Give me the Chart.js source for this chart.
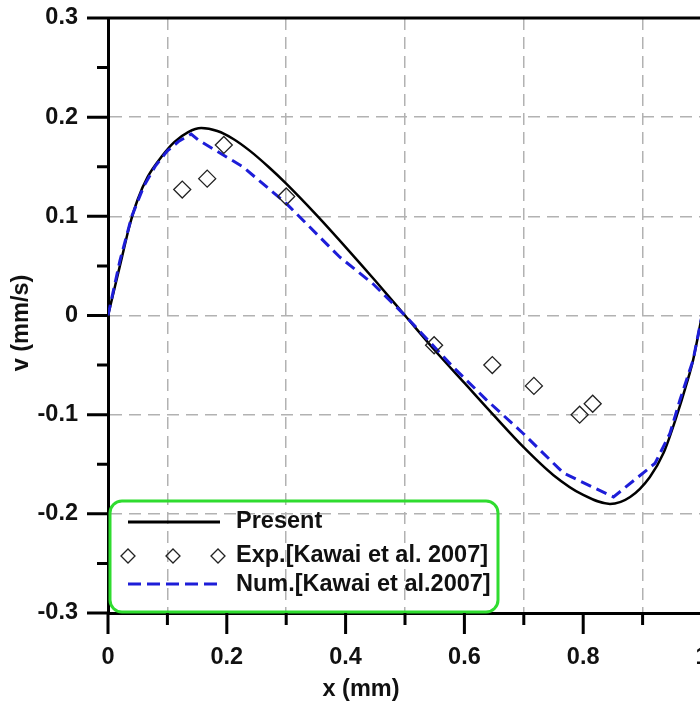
<!DOCTYPE html>
<html>
<head>
<meta charset="utf-8">
<script src="https://cdn.jsdelivr.net/npm/chart.js@4.4.1/dist/chart.umd.min.js"></script>
<style>
  html, body { margin: 0; padding: 0; background: #fff; overflow: hidden; }
  #wrap { width: 712px; height: 707px; }
</style>
</head>
<body>
<div id="wrap"><canvas id="chart" width="712" height="707"></canvas></div>
<script>
// Present (solid black)
const presentX = [0, 0.012, 0.024, 0.036, 0.05, 0.067, 0.09, 0.112, 0.135, 0.157, 0.184, 0.211, 0.239, 0.27, 0.3, 0.35, 0.4, 0.45, 0.5, 0.55, 0.6, 0.65, 0.7, 0.75, 0.8, 0.845, 0.879, 0.912, 0.935, 0.957, 0.974, 0.985, 1.0];
const presentY = [0, 0.03, 0.06, 0.09, 0.117, 0.140, 0.160, 0.175, 0.185, 0.189, 0.186, 0.178, 0.166, 0.150, 0.133, 0.102, 0.069, 0.035, 0.0, -0.035, -0.068, -0.101, -0.133, -0.161, -0.181, -0.190, -0.183, -0.163, -0.139, -0.102, -0.069, -0.045, 0];

// Exp. [Kawai et al. 2007] (diamonds)
const expX = [0.125, 0.167, 0.195, 0.300, 0.549, 0.647, 0.717, 0.794, 0.816];
const expY = [0.127, 0.138, 0.172, 0.120, -0.030, -0.050, -0.071, -0.100, -0.089];

// Num. [Kawai et al. 2007] (blue dashed)
const numX = [0, 0.02, 0.04, 0.06, 0.08, 0.1, 0.12, 0.14, 0.152, 0.227, 0.3, 0.39, 0.446, 0.5, 0.581, 0.637, 0.699, 0.767, 0.851, 0.921, 0.946, 0.963, 0.985, 1.0];
const numY = [0, 0.055, 0.1, 0.13, 0.151, 0.166, 0.176, 0.183, 0.177, 0.150, 0.113, 0.059, 0.032, 0.0, -0.052, -0.085, -0.119, -0.159, -0.183, -0.149, -0.119, -0.085, -0.045, 0];

const seriesLabels = ['Present', 'Exp.[Kawai et al. 2007]', 'Num.[Kawai et al.2007]'];
const xTitle = 'x (mm)';
const yTitle = 'v (mm/s)';

const FONT = '"Liberation Sans", Arial, sans-serif';
const BLUE = '#1d1dd8';

function toPoints(xs, ys) {
    return xs.map((x, i) => ({ x: x, y: ys[i] }));
}

// ticks, top frame, axis titles
const decorPlugin = {
    id: 'decor',
    afterDraw(chart) {
        const ctx = chart.ctx;
        const xs = chart.scales.x;
        const ys = chart.scales.y;
        const area = chart.chartArea;
        ctx.save();
        ctx.strokeStyle = '#000';
        ctx.lineWidth = 3;
        ctx.beginPath();
        for (let i = -6; i <= 6; i++) {
            const py = ys.getPixelForValue(i * 0.05);
            const len = i % 2 === 0 ? 21 : 11;
            ctx.moveTo(area.left - len, py);
            ctx.lineTo(area.left, py);
        }
        for (let i = 0; i <= 10; i++) {
            const px = xs.getPixelForValue(i * 0.1);
            const len = i % 2 === 0 ? 21 : 12;
            ctx.moveTo(px, area.bottom);
            ctx.lineTo(px, area.bottom + len);
        }
        ctx.moveTo(area.left - 1.5, area.top);
        ctx.lineTo(area.right, area.top);
        ctx.stroke();

        ctx.fillStyle = '#111';
        ctx.font = 'bold 23.5px ' + FONT;
        ctx.textAlign = 'center';
        ctx.textBaseline = 'middle';
        ctx.fillText(xTitle, 361, 690);
        ctx.translate(22, 323);
        ctx.rotate(-Math.PI / 2);
        ctx.fillText(yTitle, 0, 0);
        ctx.restore();
    }
};

// green framed legend
const legendBoxPlugin = {
    id: 'legendBox',
    afterDatasetsDraw(chart) {
        const ctx = chart.ctx;
        const ds = chart.data.datasets;
        ctx.save();
        ctx.strokeStyle = '#2fdc2f';
        ctx.lineWidth = 3;
        ctx.beginPath();
        ctx.roundRect(110, 501, 388, 111, 12);
        ctx.stroke();

        ctx.lineWidth = 3;
        ctx.strokeStyle = '#000';
        ctx.beginPath();
        ctx.moveTo(128, 522);
        ctx.lineTo(220, 522);
        ctx.stroke();

        ctx.lineWidth = 1.3;
        ctx.strokeStyle = '#222';
        [128, 173, 218].forEach(cx => {
            ctx.beginPath();
            ctx.moveTo(cx - 7, 556);
            ctx.lineTo(cx, 549);
            ctx.lineTo(cx + 7, 556);
            ctx.lineTo(cx, 563);
            ctx.closePath();
            ctx.stroke();
        });

        ctx.lineWidth = 3;
        ctx.strokeStyle = BLUE;
        ctx.setLineDash([13, 6]);
        ctx.beginPath();
        ctx.moveTo(128, 584);
        ctx.lineTo(221, 584);
        ctx.stroke();
        ctx.setLineDash([]);

        ctx.fillStyle = '#111';
        ctx.font = 'bold 23.5px ' + FONT;
        ctx.textAlign = 'left';
        ctx.textBaseline = 'middle';
        ctx.fillText(ds[0].label, 236, 522);
        ctx.fillText(ds[1].label, 236, 556);
        ctx.fillText(ds[2].label, 236, 585);
        ctx.restore();
    }
};

new Chart(document.getElementById('chart'), {
    type: 'scatter',
    data: {
        datasets: [
            {
                label: seriesLabels[0],
                data: toPoints(presentX, presentY),
                showLine: true,
                borderColor: '#000',
                borderWidth: 2.5,
                pointRadius: 0,
                cubicInterpolationMode: 'monotone',
                order: 2
            },
            {
                label: seriesLabels[1],
                data: toPoints(expX, expY),
                showLine: false,
                pointStyle: 'rectRot',
                pointRadius: 8.5,
                pointBorderWidth: 1.3,
                pointBorderColor: '#222',
                pointBackgroundColor: 'rgba(255,255,255,0)',
                order: 0
            },
            {
                label: seriesLabels[2],
                data: toPoints(numX, numY),
                showLine: true,
                borderColor: BLUE,
                borderWidth: 3,
                borderDash: [11, 6],
                pointRadius: 0,
                tension: 0,
                order: 1
            }
        ]
    },
    options: {
        responsive: false,
        animation: false,
        layout: { padding: { left: 0, right: 10, top: 18, bottom: 0 } },
        plugins: {
            legend: { display: false },
            tooltip: { enabled: false }
        },
        scales: {
            x: {
                type: 'linear',
                min: 0,
                max: 1,
                afterFit: (scale) => {
                    scale.height = 94;
                    scale.paddingLeft = 0;
                    scale.paddingRight = 0;
                },
                border: { color: '#000', width: 3, dash: [12, 7] },
                grid: {
                    drawTicks: false,
                    lineWidth: 1.5,
                    color: (c) => (Math.round(c.tick.value * 10) % 2 === 1 ? '#b2b2b2' : 'rgba(0,0,0,0)')
                },
                ticks: {
                    stepSize: 0.1,
                    padding: 30,
                    color: '#111',
                    font: { family: FONT, size: 23.5, weight: 'bold' },
                    maxRotation: 0,
                    autoSkip: false,
                    callback: (v) => {
                        const k = Math.round(v * 10);
                        return k % 2 === 0 ? String(k / 10) : '';
                    }
                }
            },
            y: {
                min: -0.3,
                max: 0.3,
                afterFit: (scale) => {
                    scale.width = 108;
                    scale.paddingTop = 0;
                    scale.paddingBottom = 0;
                },
                border: { color: '#000', width: 3, dash: [12, 7] },
                grid: {
                    drawTicks: false,
                    lineWidth: 1.5,
                    color: (c) => (Math.abs(c.tick.value) < 0.25 ? '#b2b2b2' : 'rgba(0,0,0,0)')
                },
                ticks: {
                    stepSize: 0.1,
                    padding: 30,
                    color: '#111',
                    font: { family: FONT, size: 23.5, weight: 'bold' },
                    callback: (v) => {
                        const k = Math.round(v * 10);
                        return k === 0 ? '0' : String(k / 10);
                    }
                }
            }
        }
    },
    plugins: [decorPlugin, legendBoxPlugin]
});
</script>
</body>
</html>
